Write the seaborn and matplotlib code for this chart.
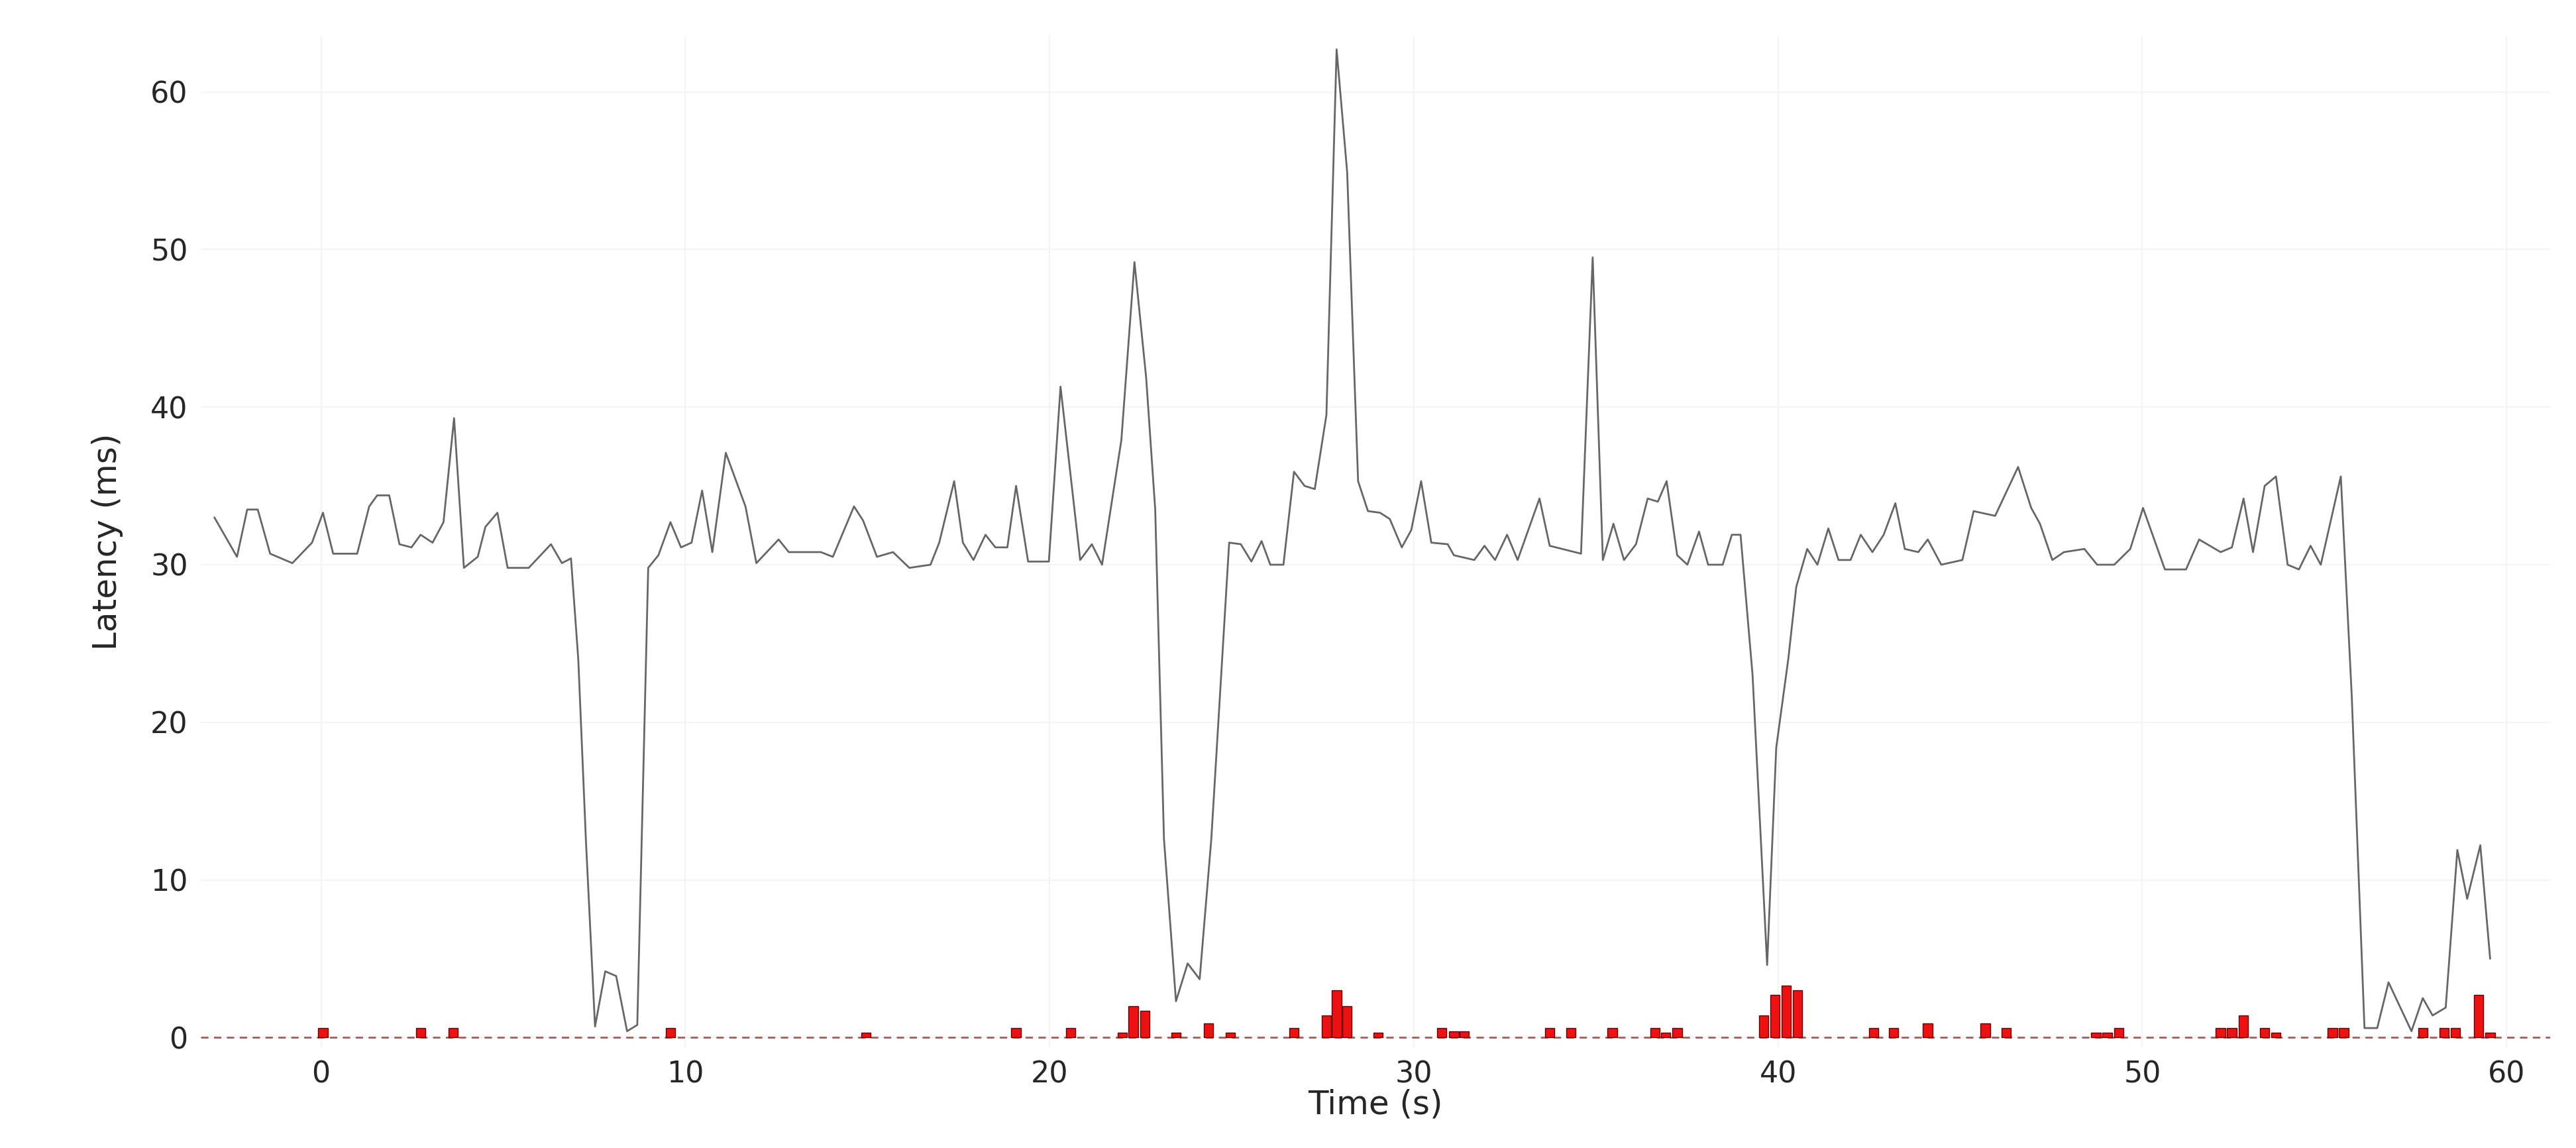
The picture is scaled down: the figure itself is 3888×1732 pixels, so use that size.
import numpy as np
import pandas as pd
import matplotlib
matplotlib.use("Agg")
import matplotlib.pyplot as plt
import seaborn as sns

# latency trace (time in s, latency in ms)
time_s = [
    -2.93, -2.31, -2.03, -1.74, -1.40, -0.79, -0.25, 0.05, 0.33, 0.99, 1.32, 1.54, 1.87, 2.15, 2.48,
    2.73, 3.06, 3.36, 3.65, 3.92, 4.30, 4.51, 4.84, 5.12, 5.70, 6.31, 6.61, 6.86, 7.06, 7.27,
    7.52, 7.80, 8.10, 8.40, 8.68, 8.98, 9.26, 9.59, 9.88, 10.17, 10.46, 10.74, 11.11, 11.65, 11.95,
    12.56, 12.84, 13.72, 14.05, 14.63, 14.88, 15.26, 15.70, 16.15, 16.73, 16.97, 17.38, 17.62, 17.91,
    18.24, 18.51, 18.84, 19.08, 19.41, 19.98, 20.30, 20.84, 21.16, 21.44, 21.97, 22.33, 22.65, 22.90,
    23.14, 23.47, 23.79, 24.12, 24.44, 24.93, 25.25, 25.54, 25.82, 26.06, 26.42, 26.71, 27.00, 27.28,
    27.60, 27.88, 28.17, 28.47, 28.74, 29.07, 29.34, 29.67, 29.93, 30.20, 30.48, 30.93, 31.10, 31.66,
    31.94, 32.23, 32.56, 32.85, 33.45, 33.73, 34.59, 34.91, 35.19, 35.48, 35.77, 36.10, 36.42, 36.70,
    36.94, 37.23, 37.51, 37.83, 38.08, 38.48, 38.73, 38.97, 39.30, 39.70, 39.95, 40.28, 40.50, 40.80,
    41.08, 41.38, 41.66, 41.99, 42.27, 42.59, 42.90, 43.22, 43.48, 43.85, 44.11, 44.48, 45.06, 45.37,
    45.96, 46.59, 46.95, 47.19, 47.53, 47.85, 48.41, 48.76, 49.23, 49.67, 50.02, 50.62, 51.20, 51.56,
    52.15, 52.46, 52.78, 53.04, 53.36, 53.67, 53.99, 54.30, 54.62, 54.90, 55.45, 55.75, 56.10, 56.45,
    56.76, 57.39, 57.70, 57.97, 58.33, 58.65, 58.92, 59.28, 59.55,
]
latency_ms = [
    33.0, 30.5, 33.5, 33.5, 30.7, 30.1, 31.4, 33.3, 30.7, 30.7, 33.7, 34.4, 34.4, 31.3, 31.1,
    31.9, 31.4, 32.7, 39.3, 29.8, 30.5, 32.4, 33.3, 29.8, 29.8, 31.3, 30.1, 30.4, 24.0, 12.5,
    0.7, 4.2, 3.9, 0.4, 0.8, 29.8, 30.6, 32.7, 31.1, 31.4, 34.7, 30.8, 37.1, 33.7, 30.1,
    31.6, 30.8, 30.8, 30.5, 33.7, 32.8, 30.5, 30.8, 29.8, 30.0, 31.4, 35.3, 31.4, 30.3,
    31.9, 31.1, 31.1, 35.0, 30.2, 30.2, 41.3, 30.3, 31.3, 30.0, 37.9, 49.2, 41.9, 33.5,
    12.6, 2.3, 4.7, 3.7, 12.6, 31.4, 31.3, 30.2, 31.5, 30.0, 30.0, 35.9, 35.0, 34.8,
    39.5, 62.7, 54.9, 35.3, 33.4, 33.3, 32.9, 31.1, 32.2, 35.3, 31.4, 31.3, 30.6, 30.3,
    31.2, 30.3, 31.9, 30.3, 34.2, 31.2, 30.7, 49.5, 30.3, 32.6, 30.3, 31.3, 34.2, 34.0,
    35.3, 30.6, 30.0, 32.1, 30.0, 30.0, 31.9, 31.9, 23.0, 4.6, 18.4, 24.0, 28.6, 31.0,
    30.0, 32.3, 30.3, 30.3, 31.9, 30.8, 31.9, 33.9, 31.0, 30.8, 31.6, 30.0, 30.3, 33.4,
    33.1, 36.2, 33.6, 32.6, 30.3, 30.8, 31.0, 30.0, 30.0, 31.0, 33.6, 29.7, 29.7, 31.6,
    30.8, 31.1, 34.2, 30.8, 35.0, 35.6, 30.0, 29.7, 31.2, 30.0, 35.6, 21.7, 0.6, 0.6,
    3.5, 0.4, 2.5, 1.4, 1.9, 11.9, 8.8, 12.2, 5.0,
]

# red bars along the baseline
bar_time = [
    0.05, 2.73, 3.63, 9.59, 14.96, 19.08, 20.58, 22.0, 22.3, 22.62, 23.47, 24.36, 24.96, 26.71,
    27.6, 27.88, 28.17, 29.02, 30.77, 31.1, 31.39, 33.73, 34.31, 35.45, 36.62, 36.91, 37.23,
    39.6, 39.91, 40.23, 40.54, 42.62, 43.17, 44.11, 45.69, 46.27, 48.73, 49.04, 49.36, 52.15,
    52.46, 52.78, 53.36, 53.67, 55.22, 55.53, 57.7, 58.29, 58.6, 59.23, 59.55,
]
bar_height = [
    0.6, 0.6, 0.6, 0.6, 0.3, 0.6, 0.6, 0.3, 2.0, 1.7, 0.3, 0.9, 0.3, 0.6,
    1.4, 3.0, 2.0, 0.3, 0.6, 0.4, 0.4, 0.6, 0.6, 0.6, 0.6, 0.3, 0.6,
    1.4, 2.7, 3.3, 3.0, 0.6, 0.6, 0.9, 0.9, 0.6, 0.3, 0.3, 0.6, 0.6,
    0.6, 1.4, 0.6, 0.3, 0.6, 0.6, 0.6, 0.6, 0.6, 2.7, 0.3,
]

x_ticks = [0, 10, 20, 30, 40, 50, 60]
y_ticks = [0, 10, 20, 30, 40, 50, 60]

df = pd.DataFrame({"t": time_s, "lat": latency_ms})

sns.set_style("white")
plt.rcParams["font.family"] = ["DejaVu Sans"]

fig, ax = plt.subplots(figsize=(38.88, 17.32), dpi=100)
fig.subplots_adjust(left=0.078, right=0.99, top=0.968, bottom=0.088)

ax.grid(axis="both", color="#f4f4f4", linewidth=1.5)
ax.bar(bar_time, bar_height, width=0.26, color="#ee1111", edgecolor="#660000",
       linewidth=1.0, zorder=3)
ax.axhline(0, color="#a06060", linestyle=(0, (4, 3)), linewidth=2, zorder=2)
sns.lineplot(data=df, x="t", y="lat", ax=ax, color="#666666", linewidth=2.0, zorder=4)

ax.set_xlim(-3.3, 61.2)
ax.set_ylim(-0.6, 63.5)
ax.set_xticks(x_ticks)
ax.set_yticks(y_ticks)
ax.tick_params(labelsize=32, length=0, pad=14)
for s in ax.spines.values():
    s.set_visible(False)
ax.set_xlabel("Time (s)", fontsize=36, labelpad=0)
ax.set_ylabel("Latency (ms)", fontsize=36, labelpad=30)

fig.savefig("out.png", dpi=100)
